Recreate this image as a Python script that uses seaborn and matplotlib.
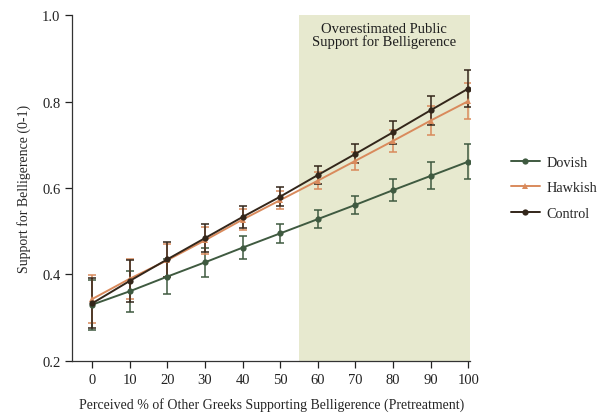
import numpy as np
import pandas as pd
import matplotlib
matplotlib.use("Agg")
import matplotlib.pyplot as plt
import seaborn as sns

# ---- data ----
perceived = [0, 10, 20, 30, 40, 50, 60, 70, 80, 90, 100]
dovish = [0.330, 0.361, 0.395, 0.428, 0.462, 0.495, 0.528, 0.561, 0.595, 0.628, 0.661]
hawkish = [0.343, 0.390, 0.433, 0.479, 0.527, 0.572, 0.617, 0.663, 0.709, 0.756, 0.801]
control = [0.333, 0.385, 0.435, 0.484, 0.533, 0.580, 0.630, 0.679, 0.729, 0.780, 0.830]
dovish_err = [0.058, 0.048, 0.040, 0.033, 0.027, 0.022, 0.020, 0.021, 0.025, 0.031, 0.040]
hawkish_err = [0.055, 0.046, 0.038, 0.031, 0.025, 0.021, 0.019, 0.021, 0.026, 0.033, 0.041]
control_err = [0.058, 0.048, 0.041, 0.032, 0.026, 0.022, 0.020, 0.022, 0.027, 0.034, 0.043]

groups = ["Dovish", "Hawkish", "Control"]
colors = {"Dovish": "#3f5a40", "Hawkish": "#d98a5c", "Control": "#33261a"}
markers = {"Dovish": "o", "Hawkish": "^", "Control": "o"}

df = pd.DataFrame({
    "x": perceived * 3,
    "y": dovish + hawkish + control,
    "err": dovish_err + hawkish_err + control_err,
    "group": np.repeat(groups, len(perceived)),
})

sns.set_style("ticks")
plt.rcParams["font.family"] = ["Liberation Serif", "DejaVu Serif"]

fig = plt.figure(figsize=(6.02, 4.14), dpi=100)
ax = fig.add_axes([0.12, 0.126, 0.661, 0.835])

# shaded region for overestimated support
ax.axvspan(55, 100.5, color="#e7e9cf", lw=0, zorder=0)
ax.text(77.5, 0.985, "Overestimated Public\nSupport for Belligerence",
        ha="center", va="top", fontsize=10.5, color="#1e1e1e", linespacing=1.0)

for g in groups:
    sub = df[df.group == g]
    ax.errorbar(sub.x, sub.y, yerr=sub.err, fmt="none", ecolor=colors[g],
                elinewidth=1.1, capsize=3, capthick=1.1, zorder=2)

sns.lineplot(data=df, x="x", y="y", hue="group", style="group",
             palette=colors, markers=markers, dashes=False,
             markersize=4.5, markeredgewidth=0, linewidth=1.4,
             ax=ax, zorder=3)

ax.set_xlim(-5.3, 100.5)
ax.set_ylim(0.2, 1.0)
ax.set_xticks(perceived)
ax.set_yticks([0.2, 0.4, 0.6, 0.8, 1.0])
ax.set_yticklabels(["0.2", "0.4", "0.6", "0.8", "1.0"])
ax.tick_params(labelsize=10.5, length=5, width=0.9, colors="#222222")
for s in ["left", "bottom"]:
    ax.spines[s].set_linewidth(0.9)
    ax.spines[s].set_color("#333333")
sns.despine(ax=ax)

ax.set_xlabel("Perceived % of Other Greeks Supporting Belligerence (Pretreatment)",
              fontsize=10, labelpad=8)
ax.set_ylabel("Support for Belligerence (0-1)", fontsize=10, labelpad=8)

leg = ax.legend(loc="center left", bbox_to_anchor=(1.07, 0.50), frameon=False,
                fontsize=10.3, handlelength=2.0, handletextpad=0.5,
                labelspacing=0.85, title=None)

fig.savefig("out.png", dpi=100)
